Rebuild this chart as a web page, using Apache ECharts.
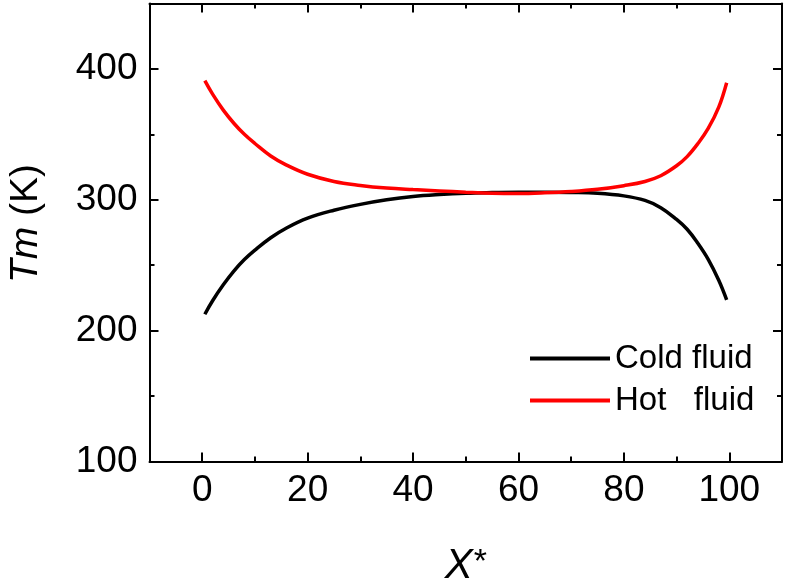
<!DOCTYPE html>
<html>
<head>
<meta charset="utf-8">
<script src="https://cdn.jsdelivr.net/npm/echarts@6/dist/echarts.min.js"></script>
<style>
html,body{margin:0;padding:0;background:#fff;}
#chart{width:787px;height:581px;}
</style>
</head>
<body>
<div id="chart"></div>
<script>
// ---- data ----
const xStar = [0.5, 2, 4, 6, 8, 10, 13, 16, 20, 25, 30, 35, 40, 45, 50, 55, 60, 65, 70, 75, 80, 84, 87, 90, 92, 94, 96, 98, 99.5];
const coldFluid = [212.5, 223, 235, 245.5, 254.3, 261.5, 271, 278.5, 286, 292, 296.5, 300, 302.5, 304, 305, 305.5, 305.8, 305.8, 305.6, 305, 303, 299.5, 294, 285, 277.5, 267, 254.5, 238.5, 223.5];
const hotFluid = [391, 380.5, 368.5, 358.5, 350, 343, 333.5, 326.5, 319.5, 314, 311, 309, 307.8, 306.8, 305.8, 305, 304.8, 305.3, 306.3, 308, 310.8, 314, 318.4, 326, 333, 342.7, 354.5, 370.8, 389.5];
const seriesNames = ['Cold fluid', 'Hot   fluid'];
const xMajorTicks = [0, 20, 40, 60, 80, 100];
const xMinorTicks = [10, 30, 50, 70, 90];
const yMajorTicks = [100, 200, 300, 400];
const yMinorTicks = [150, 250, 350];

const FONT = "'Liberation Sans', Arial, Helvetica, sans-serif";
const chart = echarts.init(document.getElementById('chart'), null, {renderer: 'canvas'});

const lineStyle = {color: '#000', width: 2};
function xAx(pos, ticks, len, showLine, labels) {
  return {
    type: 'value', gridIndex: 0, position: pos, min: -10, max: 110,
    axisLine: {show: showLine, onZero: false, lineStyle: lineStyle},
    axisTick: {show: true, inside: true, length: len, customValues: ticks, lineStyle: lineStyle},
    axisLabel: labels ? {show: true, customValues: ticks, fontSize: 37, color: '#000', fontFamily: FONT, margin: 11} : {show: false},
    splitLine: {show: false}
  };
}
function yAx(pos, ticks, len, showLine, labels) {
  return {
    type: 'value', gridIndex: 0, position: pos, min: 100, max: 450,
    axisLine: {show: showLine, onZero: false, lineStyle: lineStyle},
    axisTick: {show: true, inside: true, length: len, customValues: ticks, lineStyle: lineStyle},
    axisLabel: labels ? {show: true, customValues: ticks, fontSize: 37, color: '#000', fontFamily: FONT, margin: 12} : {show: false},
    splitLine: {show: false}
  };
}

const xMain = xAx('bottom', xMajorTicks, 9, true, true);
xMain.name = '{x|X}{s|*}';
xMain.nameLocation = 'middle';
xMain.nameGap = 84;
xMain.nameTextStyle = {
  rich: {
    x: {fontSize: 42, fontStyle: 'italic', fontFamily: FONT, color: '#000'},
    s: {fontSize: 34, fontFamily: FONT, color: '#000', verticalAlign: 'top', padding: [0, 0, 0, 1]}
  }
};
const yMain = yAx('left', yMajorTicks, 9, true, true);
yMain.name = '{i|Tm} (K)';
yMain.nameLocation = 'middle';
yMain.nameGap = 104;
yMain.nameTextStyle = {
  fontSize: 39, fontFamily: FONT, color: '#000', padding: [0, 0, 0, 18],
  rich: {i: {fontSize: 39, fontStyle: 'italic', fontFamily: FONT, color: '#000'}}
};

const option = {
  backgroundColor: '#fff',
  animation: false,
  grid: {left: 149.5, right: 5, top: 3.5, bottom: 119.5, containLabel: false, outerBoundsMode: 'none'},
  xAxis: [
    xMain,
    xAx('bottom', xMinorTicks, 5, false, false),
    xAx('top', xMajorTicks, 9, true, false),
    xAx('top', xMinorTicks, 5, false, false)
  ],
  yAxis: [
    yMain,
    yAx('left', yMinorTicks, 5, false, false),
    yAx('right', yMajorTicks, 9, true, false),
    yAx('right', yMinorTicks, 5, false, false)
  ],
  legend: {
    orient: 'vertical', left: 530, top: 342, padding: 0,
    itemWidth: 80, itemHeight: 4, itemGap: 9,
    icon: 'rect',
    textStyle: {fontSize: 33, fontFamily: FONT, color: '#000'},
    data: seriesNames
  },
  series: [
    {
      name: seriesNames[0], type: 'line', xAxisIndex: 0, yAxisIndex: 0,
      data: xStar.map((x, i) => [x, coldFluid[i]]),
      smooth: 0.4, showSymbol: false, symbol: 'none',
      lineStyle: {color: '#000', width: 3.5}, itemStyle: {color: '#000'}
    },
    {
      name: seriesNames[1], type: 'line', xAxisIndex: 0, yAxisIndex: 0,
      data: xStar.map((x, i) => [x, hotFluid[i]]),
      smooth: 0.4, showSymbol: false, symbol: 'none',
      lineStyle: {color: '#ff0000', width: 3.5}, itemStyle: {color: '#ff0000'}
    }
  ]
};
chart.setOption(option);
</script>
</body>
</html>
